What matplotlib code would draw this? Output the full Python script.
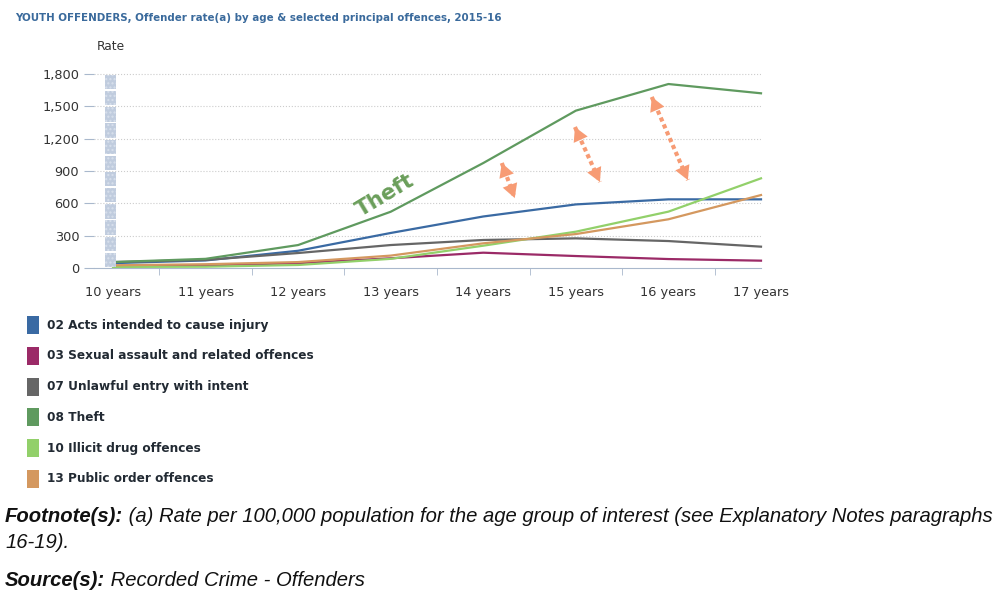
import matplotlib
matplotlib.use("Agg")
import matplotlib.pyplot as plt
from matplotlib.patches import Rectangle
import numpy as np

ages = ['10 years', '11 years', '12 years', '13 years', '14 years', '15 years', '16 years', '17 years']
acts_injury = [45, 70, 160, 325, 478, 590, 637, 637]
sexual_assault = [20, 25, 45, 90, 142, 111, 83, 68]
unlawful_entry = [55, 75, 139, 213, 260, 275, 250, 198]
theft = [55, 85, 213, 522, 974, 1460, 1707, 1621]
illicit_drug = [10, 12, 28, 85, 207, 337, 523, 832]
public_order = [25, 35, 55, 115, 229, 315, 452, 677]

series = [
    ('02 Acts intended to cause injury', acts_injury, '#3a6aa3'),
    ('03 Sexual assault and related offences', sexual_assault, '#9b2a67'),
    ('07 Unlawful entry with intent', unlawful_entry, '#666666'),
    ('08 Theft', theft, '#5f9a5f'),
    ('10 Illicit drug offences', illicit_drug, '#92d06a'),
    ('13 Public order offences', public_order, '#d4985f'),
]
yticks = [0, 300, 600, 900, 1200, 1500, 1800]

W, H = 999, 598
fig = plt.figure(figsize=(W / 100, H / 100), dpi=100)
# axes box in pixels: x=0 at 113px, x=7 at 761px, y=0 at 268px
px_per_cat = (761 - 113) / 7
left_px = 113 - 0.2 * px_per_cat
ymax = 1830
top_px = 268 - ymax * (194 / 1800)
ax = fig.add_axes([left_px / W, (H - 268) / H, (761 - left_px) / W, (268 - top_px) / H])

x = np.arange(len(ages))
for name, vals, col in series:
    ax.plot(x, vals, color=col, lw=1.6, clip_on=False, zorder=3)

ax.set_xlim(-0.2, 7)
ax.set_ylim(0, ymax)
ax.set_yticks(yticks)
ax.set_yticklabels([f'{v:,}' for v in yticks], fontsize=9.3, color='#333333')
ax.tick_params(axis='y', length=7, color='#a9b8cc', pad=4)
ax.set_xticks(x)
ax.set_xticklabels(ages, fontsize=9.3, color='#333333')
ax.set_xticks(x[:-1] + 0.5, minor=True)
ax.tick_params(axis='x', which='major', length=0, pad=13)
ax.tick_params(axis='x', which='minor', length=5, color='#a9b8cc')
for v in yticks[1:]:
    ax.axhline(v, color='#cccccc', lw=0.8, ls=':', zorder=1)
for s in ['top', 'right', 'left']:
    ax.spines[s].set_visible(False)
ax.spines['bottom'].set_color('#a9b8cc')

# segmented grey band at the left edge
for k in range(12):
    ax.add_patch(Rectangle((-0.086, k * 150 + 8), 0.12, 134, facecolor='#c0ccde', edgecolor='#d8e0ec',
                           hatch='....', lw=0, zorder=4))

# Theft label
ax.text(2.94, 677, 'Theft', color='#6a9e5a', fontsize=15.5, fontweight='bold', rotation=31,
        ha='center', va='center', zorder=5)

# dotted double arrows
arrows = [((4.20, 974), (4.34, 649)), ((4.99, 1308), (5.26, 798)), ((5.82, 1587), (6.21, 816))]
acol = '#f79b74'
for (x1, y1), (x2, y2) in arrows:
    ax.plot([x1, x2], [y1, y2], color=acol, lw=3, ls=(0, (1, 0.8)), solid_capstyle='butt',
            dash_capstyle='butt', zorder=5)
    ax.annotate('', xy=(x1, y1), xytext=(x2, y2),
                arrowprops=dict(arrowstyle='<|-|>,head_length=1.0,head_width=0.55', color=acol, lw=0.01,
                                shrinkA=0, shrinkB=0), zorder=6)

fig.text(15 / W, 1 - 18 / H, 'YOUTH OFFENDERS, Offender rate(a) by age & selected principal offences, 2015-16',
         fontsize=7.4, fontweight='bold', color='#3a6a9c', va='center')
fig.text(97 / W, 1 - 46 / H, 'Rate', fontsize=8.8, color='#333333', va='center')

# legend
for i, (name, vals, col) in enumerate(series):
    yc = 325 + i * 30.8
    fig.patches.append(Rectangle((27 / W, 1 - (yc + 9) / H), 12 / W, 18 / H, transform=fig.transFigure,
                                 facecolor=col, edgecolor='none'))
    fig.text(47 / W, 1 - yc / H, name, fontsize=8.7, fontweight='bold', color='#222a33', va='center')

# footnotes (narrow italic face not installed: size chosen so the long line spans the same width)
nfam = 'Liberation Sans'
renderer = fig.canvas.get_renderer()
line1 = [('Footnote(s):', True), (' (a) Rate per 100,000 population for the age group of interest (see Explanatory Notes paragraphs', False)]
wpx = 0
for txt, bold in line1:
    probe = fig.text(0, 0, txt, fontsize=12, style='italic', family=nfam, fontweight='bold' if bold else 'normal')
    wpx += probe.get_window_extent(renderer).width
    probe.remove()
fs = 12 * 984 / wpx


def runs(xpx, ypx, parts):
    xx = xpx
    for txt, bold in parts:
        t = fig.text(xx / W, 1 - ypx / H, txt, fontsize=fs, style='italic', family=nfam,
                     fontweight='bold' if bold else 'normal', va='center', color='#111111')
        xx += t.get_window_extent(renderer).width


runs(5, 516, line1)
runs(5, 542, [('16-19).', False)])
runs(5, 580, [('Source(s):', True), (' Recorded Crime - Offenders', False)])

fig.savefig('out.png', dpi=100)
